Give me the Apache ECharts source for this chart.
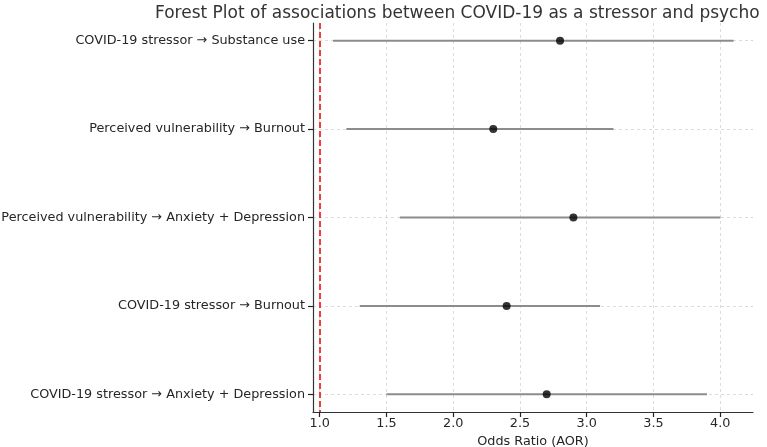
<!DOCTYPE html>
<html>
<head>
<meta charset="utf-8">
<script src="https://cdn.jsdelivr.net/npm/echarts@6/dist/echarts.min.js"></script>
<style>
  html, body { margin: 0; padding: 0; background: #fff; }
  #chart { width: 767px; height: 447px; }
</style>
</head>
<body>
<div id="chart"></div>
<script>
// rows listed top to bottom
const categories = [
    'COVID-19 stressor → Substance use',
    'Perceived vulnerability → Burnout',
    'Perceived vulnerability → Anxiety + Depression',
    'COVID-19 stressor → Burnout',
    'COVID-19 stressor → Anxiety + Depression',
];
const aor = [2.8, 2.3, 2.9, 2.4, 2.7];
const ciLow = [1.1, 1.2, 1.6, 1.3, 1.5];
const ciHigh = [4.1, 3.2, 4.0, 3.1, 3.9];
const xTicks = [1.0, 1.5, 2.0, 2.5, 3.0, 3.5, 4.0];
const rowTicks = categories.map((_, i) => i);

const FONT = 'DejaVu Sans';
const TEXT = '#262626';
const GRIDC = '#d4d4d4';

const chart = echarts.init(document.getElementById('chart'));

chart.setOption({
    backgroundColor: '#fff',
    animation: false,
    title: {
        text: 'Forest Plot of associations between COVID-19 as a stressor and psycho',
        left: 155,
        top: 5,
        padding: 0,
        textStyle: { fontFamily: FONT, fontSize: 17, fontWeight: 'normal', color: '#333' },
    },
    grid: { left: 313, right: 14, top: 23, bottom: 35, containLabel: false, outerBoundsMode: 'none' },
    xAxis: {
        type: 'value',
        min: 0.95,
        max: 4.245,
        name: 'Odds Ratio (AOR)',
        nameLocation: 'middle',
        nameGap: 22,
        nameTextStyle: { fontFamily: FONT, fontSize: 12.8, color: TEXT },
        axisLine: { show: true, onZero: false, lineStyle: { color: '#333', width: 1.2 } },
        axisTick: { show: true, inside: false, length: 5, customValues: xTicks, lineStyle: { color: '#222', width: 1.2 } },
        axisLabel: {
            customValues: xTicks,
            margin: 5,
            fontFamily: FONT, fontSize: 12.8, color: TEXT,
            formatter: v => v.toFixed(1),
        },
        splitLine: { show: true, lineStyle: { color: GRIDC, type: [3, 3], width: 0.8 } },
    },
    yAxis: {
        type: 'value',
        inverse: true,
        min: -0.2,
        max: 4.2,
        axisLine: { show: true, onZero: false, lineStyle: { color: '#333', width: 1.2 } },
        axisTick: { show: true, inside: false, length: 5, customValues: rowTicks, lineStyle: { color: '#222', width: 1.2 } },
        axisLabel: {
            customValues: rowTicks,
            margin: 8,
            fontFamily: FONT, fontSize: 12.8, color: TEXT,
            formatter: v => categories[Math.round(v)] ?? '',
        },
        splitLine: { show: true, lineStyle: { color: GRIDC, type: [3, 3], width: 0.8 } },
    },
    series: [
        {
            // confidence intervals
            type: 'custom',
            data: categories.map((_, i) => [ciLow[i], ciHigh[i], i]),
            encode: { x: [0, 1], y: 2 },
            renderItem: (params, api) => {
                const a = api.coord([api.value(0), api.value(2)]);
                const b = api.coord([api.value(1), api.value(2)]);
                return {
                    type: 'line',
                    shape: { x1: a[0], y1: a[1], x2: b[0], y2: b[1] },
                    style: { stroke: '#8c8c8c', lineWidth: 2 },
                };
            },
            z: 2,
        },
        {
            type: 'scatter',
            data: categories.map((_, i) => [aor[i], i]),
            symbolSize: 8,
            itemStyle: { color: '#000' },
            z: 3,
            markLine: {
                silent: true,
                symbol: 'none',
                label: { show: false },
                lineStyle: { color: '#f23d3d', type: [6, 3], width: 2 },
                data: [{ xAxis: 1 }],
            },
        },
    ],
});
</script>
</body>
</html>
